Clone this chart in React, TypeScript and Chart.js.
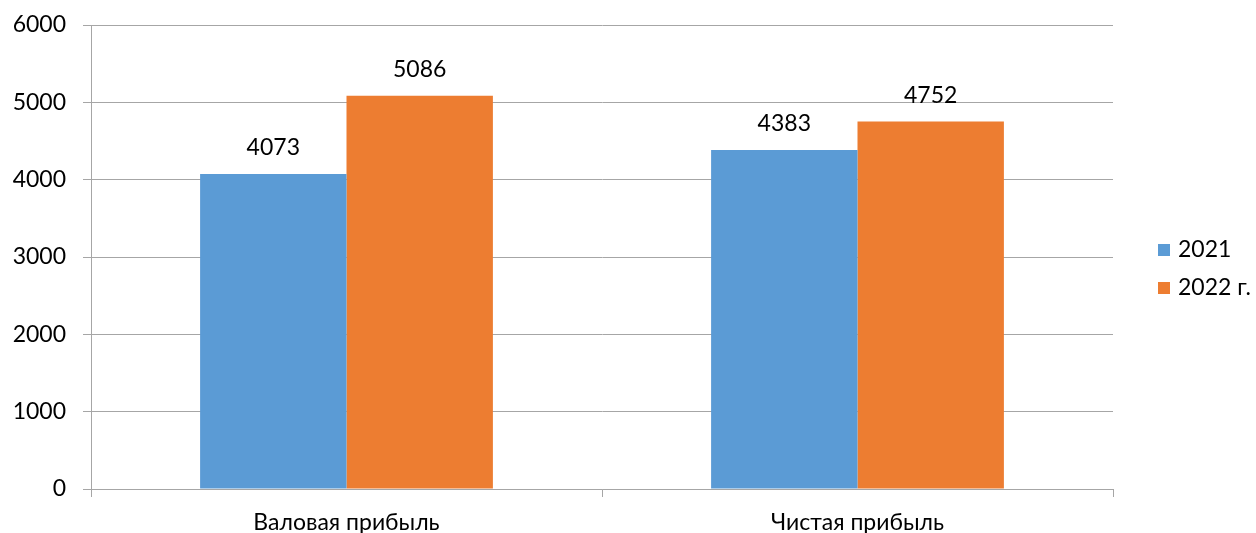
import React, { useEffect, useRef } from "react";
import { Chart, registerables } from "chart.js";

Chart.register(...registerables);

const categories = ["Валовая прибыль", "Чистая прибыль"];
const seriesNames = ["2021", "2022 г."];
const values2021 = [4073, 4383];
const values2022 = [5086, 4752];
const yTicks = [0, 1000, 2000, 3000, 4000, 5000, 6000];

const BLUE = "#5b9bd5";
const ORANGE = "#ed7d31";
const GRID = "#a6a6a6";
const FONT = "Lato, 'Open Sans', sans-serif";
const FONT_SIZE = 23;

const valueLabels = {
  id: "valueLabels",
  afterDatasetsDraw(chart: any) {
    const ctx = chart.ctx;
    ctx.save();
    ctx.font = `${FONT_SIZE}px ${FONT}`;
    ctx.fillStyle = "#000";
    ctx.textAlign = "center";
    ctx.textBaseline = "middle";
    chart.data.datasets.forEach((ds: any, i: number) => {
      const meta = chart.getDatasetMeta(i);
      meta.data.forEach((bar: any, j: number) => {
        ctx.fillText(String(ds.data[j]), bar.x, bar.y - 26);
      });
    });
    ctx.restore();
  },
};

const sideLegend = {
  id: "sideLegend",
  afterDraw(chart: any) {
    const ctx = chart.ctx;
    ctx.save();
    ctx.font = `${FONT_SIZE}px ${FONT}`;
    ctx.textBaseline = "middle";
    ctx.textAlign = "left";
    const colors = [BLUE, ORANGE];
    seriesNames.forEach((name, i) => {
      const y = 250 + i * 38;
      ctx.fillStyle = colors[i];
      ctx.fillRect(1158, y - 6, 12, 12);
      ctx.fillStyle = "#000";
      ctx.fillText(name, 1178, y);
    });
    ctx.restore();
  },
};

export default function App() {
  const ref = useRef<HTMLCanvasElement>(null);

  useEffect(() => {
    const chart = new Chart(ref.current!, {
      type: "bar",
      data: {
        labels: categories,
        datasets: [
          { label: seriesNames[0], data: values2021, backgroundColor: BLUE },
          { label: seriesNames[1], data: values2022, backgroundColor: ORANGE },
        ],
      },
      options: {
        animation: false,
        responsive: false,
        layout: { padding: { top: 0, right: 143, left: 0, bottom: 0 } },
        datasets: {
          bar: { barPercentage: 1, categoryPercentage: 0.573 },
        },
        plugins: {
          legend: { display: false },
          tooltip: { enabled: false },
        },
        scales: {
          x: {
            offset: true,
            grid: {
              offset: true,
              drawOnChartArea: false,
              drawTicks: true,
              tickLength: 8,
              color: GRID,
            },
            border: { color: GRID, width: 1 },
            ticks: {
              color: "#000",
              font: { family: FONT, size: FONT_SIZE },
              padding: 12,
            },
            afterFit(scale: any) {
              scale.height = 44;
            },
          },
          y: {
            min: 0,
            max: 6000,
            afterBuildTicks(scale: any) {
              scale.ticks = yTicks.map((v) => ({ value: v }));
            },
            grid: { color: GRID, tickLength: 8 },
            border: { color: GRID, width: 1 },
            ticks: {
              color: "#000",
              font: { family: FONT, size: FONT_SIZE },
              padding: 17,
              callback: (v: any) => String(v),
            },
            afterFit(scale: any) {
              scale.width = 91;
              scale.paddingTop = 25;
              scale.paddingBottom = 0;
            },
          },
        },
      },
      plugins: [valueLabels, sideLegend],
    });
    return () => chart.destroy();
  }, []);

  return (
    <div style={{ position: "absolute", left: 0, top: 0, width: 1256, height: 533, background: "#fff" }}>
      <canvas ref={ref} width={1256} height={533} />
    </div>
  );
}
